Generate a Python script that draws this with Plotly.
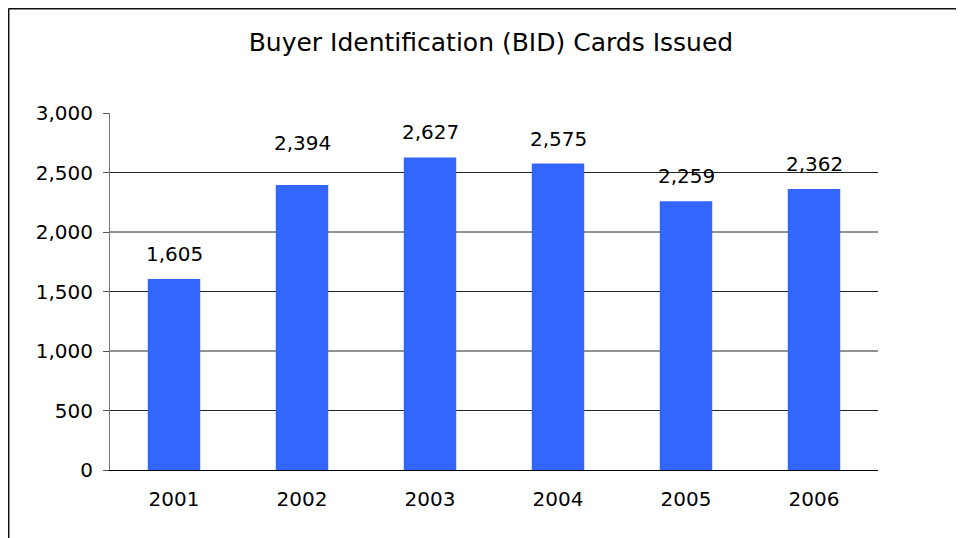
import plotly.graph_objects as go

years = ["2001", "2002", "2003", "2004", "2005", "2006"]
cards = [1605, 2394, 2627, 2575, 2259, 2362]
label_shift = [25, 42, 25, 25, 25, 25]
y_ticks = [0, 500, 1000, 1500, 2000, 2500, 3000]
title_text = "Buyer Identification (BID) Cards Issued"

FONT = "DejaVu Sans"

fig = go.Figure()
fig.add_trace(go.Bar(
    x=years, y=cards,
    marker=dict(color="#3366FF", line=dict(width=0)),
    hoverinfo="x+y",
))

# data labels: x given as category index
for i, (v, s) in enumerate(zip(cards, label_shift)):
    fig.add_annotation(
        x=i, y=v, text=f"{v:,}", showarrow=False,
        yanchor="middle", yshift=s,
        font=dict(family=FONT, size=20, color="#000"),
    )

# gridlines (no gridline at the top tick)
for t in y_ticks[1:-1]:
    fig.add_shape(type="line", xref="paper", yref="y", x0=0, x1=1, y0=t, y1=t,
                  line=dict(color="#222", width=1), layer="below")

# outer frame (top and left edges of the chart)
fx = -0.1322
fy = 1.2927
fig.add_shape(type="line", xref="paper", yref="paper", x0=fx, x1=1.2,
              y0=fy, y1=fy, line=dict(color="#111", width=2))
fig.add_shape(type="line", xref="paper", yref="paper", x0=fx, x1=fx,
              y0=fy, y1=-0.3, line=dict(color="#111", width=2))

fig.update_layout(
    width=964, height=538,
    margin=dict(l=102, r=94, t=105, b=76),
    paper_bgcolor="white", plot_bgcolor="white",
    showlegend=False,
    bargap=0.59,
    font=dict(family=FONT, size=20, color="#000"),
    title=dict(text=title_text, x=0.496, xref="paper", xanchor="center",
               y=1 - 34 / 538, yref="container", yanchor="middle",
               font=dict(family=FONT, size=25, color="#000")),
)

fig.update_xaxes(type="category", range=[-0.5, len(years) - 0.5],
                 showgrid=False, showline=True, automargin=False,
                 linecolor="#000", linewidth=1, ticks="",
                 ticklabelstandoff=11, tickfont=dict(family=FONT, size=20))
fig.update_yaxes(range=[0, 3000], tickvals=y_ticks, tickformat=",",
                 showgrid=False, zeroline=False, showline=True, automargin=False,
                 linecolor="#777", linewidth=1, ticks="outside", ticklen=6,
                 tickcolor="#555", ticklabelstandoff=6,
                 tickfont=dict(family=FONT, size=20))

fig.write_html("out.html")
